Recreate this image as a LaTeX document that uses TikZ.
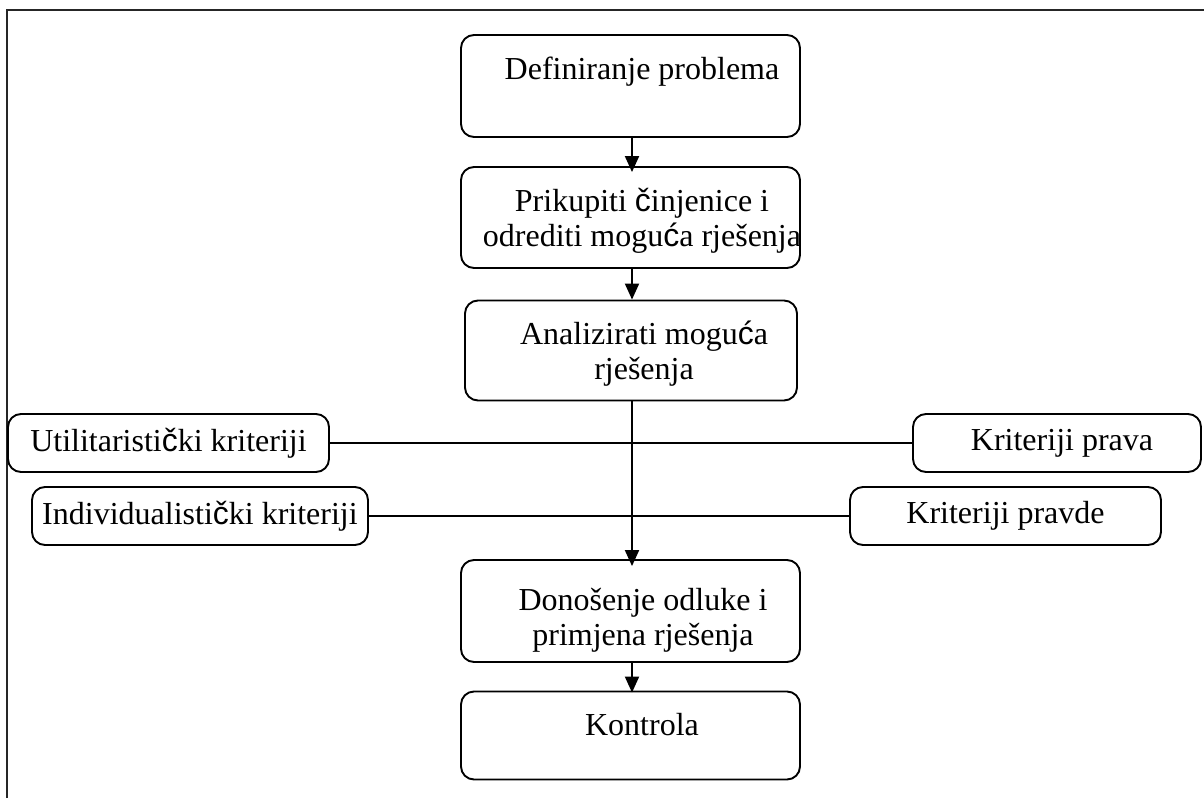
\documentclass[tikz,border=0pt]{standalone}
\usepackage{fontspec}
\setmainfont{Liberation Serif}
\newfontfamily\sanschar{Liberation Sans}
\newcommand{\cc}{{\sanschar č}}
\newcommand{\ccc}{{\sanschar ć}}
\usetikzlibrary{arrows.meta}
\begin{document}
\begin{tikzpicture}[x=1pt,y=-1pt,
  box/.style={draw, line width=1.9pt, rounded corners=13pt, inner sep=0pt},
  txt/.style={font=\fontsize{32}{35}\selectfont, align=center, inner sep=0pt},
  conn/.style={line width=2pt},
  arr/.style={line width=2pt, -{Triangle[width=14pt,length=16pt]}},
  frame/.style={line width=2.8pt, draw=black!85}]
\useasboundingbox (0,0) rectangle (1204,798);
\fill[white] (0,0) rectangle (1204,798);
% frame
\coordinate (fa) at (7,798);
\coordinate (fb) at (7,10);
\coordinate (fc) at (1204,10);
\draw[frame] (fa) -- (fb) -- (fc);
% main boxes
\node[box, minimum width=339pt, minimum height=102pt] (b1) at (630.5,86) {};
\node[txt] (t1) at (642,72) {Definiranje problema};
\node[box, minimum width=339pt, minimum height=101pt] (b2) at (630.5,217.5) {};
\node[txt] (t2) at (642,221) {Prikupiti \cc injenice i\\odrediti mogu\ccc a rješenja};
\node[box, minimum width=332pt, minimum height=100pt] (b3) at (631,350.5) {};
\node[txt] (t3) at (644,354) {Analizirati mogu\ccc a\\rješenja};
\node[box, minimum width=339pt, minimum height=102pt] (b4) at (630.5,611) {};
\node[txt] (t4) at (643,620) {Donošenje odluke i\\primjena rješenja};
\node[box, minimum width=339pt, minimum height=88pt] (b5) at (630.5,735.5) {};
\node[txt] (t5) at (642,725) {Kontrola};
% side boxes
\node[box, minimum width=321pt, minimum height=58pt] (u) at (168.5,443) {};
\node[txt] (tu) at (168.5,443) {Utilitaristi\cc ki kriteriji};
\node[box, minimum width=288pt, minimum height=58pt] (kp) at (1057,443) {};
\node[txt] (tkp) at (1062,443) {Kriteriji prava};
\node[box, minimum width=336pt, minimum height=58pt] (ind) at (200,516) {};
\node[txt] (tind) at (200,516) {Individualisti\cc ki kriteriji};
\node[box, minimum width=311pt, minimum height=58pt] (kpd) at (1005.5,516) {};
\node[txt] (tkpd) at (1005.5,516) {Kriteriji pravde};
% horizontal connectors
\draw[conn] (u.east) -- (kp.west);
\draw[conn] (ind.east) -- (kpd.west);
% arrows
\draw[arr] (b1.south -| 632,0) -- ([yshift=-6pt]b2.north -| 632,0);
\draw[arr] (b2.south -| 632,0) -- (b3.north -| 632,0);
\draw[arr] (b3.south -| 632,0) -- ([yshift=-7pt]b4.north -| 632,0);
\draw[arr] (b4.south -| 632,0) -- ([yshift=-2pt]b5.north -| 632,0);
\end{tikzpicture}
\end{document}
